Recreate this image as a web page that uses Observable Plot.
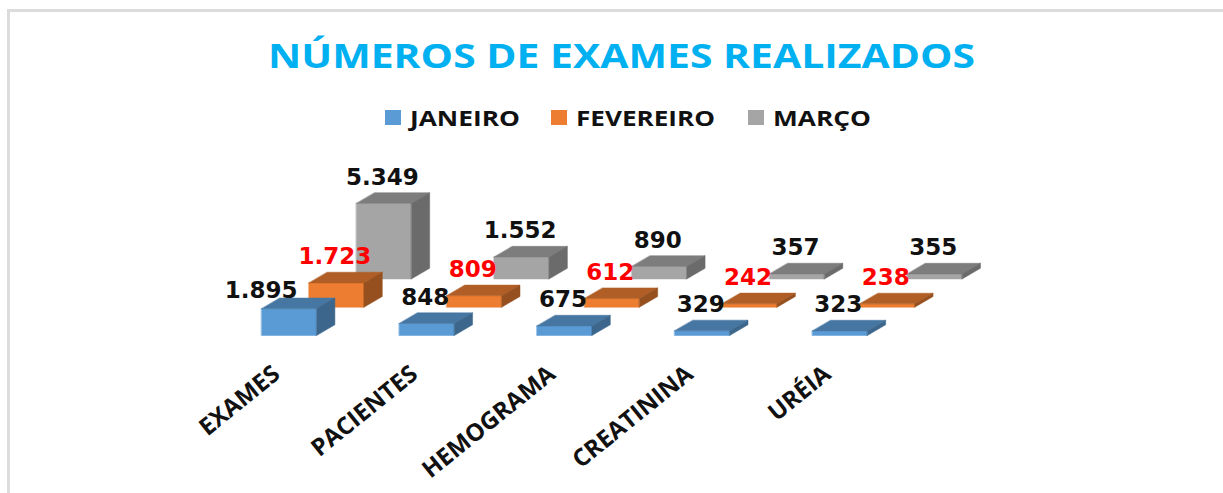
<!DOCTYPE html>
<html lang="pt-BR"><head><meta charset="utf-8">
<script src="https://cdn.jsdelivr.net/npm/d3@7"></script>
<script src="https://cdn.jsdelivr.net/npm/@observablehq/plot@0.6"></script>
<style>
html,body{margin:0;background:#fff}
#page{position:relative;width:1223px;height:493px;overflow:hidden;font-family:"Open Sans",sans-serif}
#frame{position:absolute;left:7px;top:9px;right:-4px;bottom:-4px;border:3px solid #dcdcdc;border-width:3px 0 0 3px}
#title{position:absolute;left:268px;top:30px;margin:0;color:#00b0f0;font-size:34px;font-weight:700;line-height:50px;white-space:nowrap;transform-origin:0 50%}
.leg{position:absolute;top:103px;font-size:22px;font-weight:700;line-height:28px;color:#111;white-space:nowrap;transform-origin:0 50%}
.sw{position:absolute;top:110px;width:16px;height:15px}
#chart{position:absolute;left:0;top:140px}
svg{display:block}
</style></head><body>
<div id="page"><div id="frame"></div>
<h1 id="title">NÚMEROS DE EXAMES REALIZADOS</h1>
<div id="chart"></div></div>
<script>
const categorias = ["EXAMES","PACIENTES","HEMOGRAMA","CREATININA","URÉIA"];
const janeiro   = [1895, 848, 675, 329, 323];
const fevereiro = [1723, 809, 612, 242, 238];
const marco     = [5349, 1552, 890, 357, 355];
const meses = ["JANEIRO","FEVEREIRO","MARÇO"];
const corFrente = ["#5b9bd5","#ed7d31","#a5a5a5"];
const corTopo   = ["#4676a2","#b05e25","#7d7d7d"];
const corLado   = ["#3c668c","#96501f","#6b6b6b"];
const corRotulo = ["#111","#ff0000","#111"];

const series = [janeiro, fevereiro, marco];
const passoSerie = 0.3442, larg = 0.4, profX = 0.133, passoY = 2000, profY = 757;
const fmt = d3.formatLocale({decimal:",",thousands:".",grouping:[3],currency:["",""]}).format(",");

const barras = [];
for (let s = 2; s >= 0; s--) categorias.forEach((c,i)=>barras.push({c:i,s,v:series[s][i],x:i+s*passoSerie,b:s*passoY}));

const faces = barras.flatMap(d=>{
  const x0=d.x,x1=d.x+larg,y0=d.b,y1=d.b+d.v;
  const P=(id,cor,pts)=>pts.map(([x,y])=>({id:`${d.s}-${d.c}-${id}`,cor,x,y}));
  return [
    ...P("f",corFrente[d.s],[[x0,y0],[x1,y0],[x1,y1],[x0,y1]]),
    ...P("t",corTopo[d.s],[[x0,y1],[x1,y1],[x1+profX,y1+profY],[x0+profX,y1+profY]]),
    ...P("l",corLado[d.s],[[x1,y0],[x1+profX,y0+profY],[x1+profX,y1+profY],[x1,y1]])
  ];
});

const normais = barras.filter(d=>d.v!==1895);
const deslocado = barras.filter(d=>d.v===1895);
const rotulo = {x:d=>d.x+larg/2,y:d=>d.b+d.v,text:d=>fmt(d.v),fill:d=>corRotulo[d.s],
  fontFamily:"'DejaVu Sans',sans-serif",fontWeight:700,fontSize:23,stroke:"none"};

const plot = Plot.plot({
  width:1223,height:353,margin:0,
  x:{axis:null,domain:[-1.8954,6.9862],range:[0,1223]},
  y:{axis:null,domain:[-11182,13800],range:[353,0]},
  color:{type:"identity"},
  marks:[
    Plot.line(faces,{x:"x",y:"y",z:"id",fill:"cor",stroke:"cor",strokeWidth:0.5,curve:"linear-closed"}),
    Plot.text(normais,{...rotulo,dx:-1.5,dy:-26}),
    Plot.text(deslocado,{...rotulo,dx:-28,dy:-18}),
    Plot.text(categorias,{x:(d,i)=>i+0.11,y:()=>-2500,text:d=>d,textAnchor:"end",rotate:-39,
      fontFamily:"'Open Sans',sans-serif",fontWeight:700,fontSize:24,fill:"#111"})
  ]
});
document.getElementById("chart").append(plot);

const page=document.getElementById("page");
const swX=[385,551,748], txX=[410,576,773], txW=[110,139,98];
meses.forEach((m,i)=>{
  const sw=document.createElement("div");sw.className="sw";sw.style.left=swX[i]+"px";sw.style.background=corFrente[i];page.append(sw);
  const t=document.createElement("div");t.className="leg";t.style.left=txX[i]+"px";t.textContent=m;page.append(t);
  t.style.transform=`scaleX(${txW[i]/t.getBoundingClientRect().width})`;
});
const ti=document.getElementById("title");
ti.style.transform=`scaleX(${707/ti.getBoundingClientRect().width})`;
</script></body></html>
